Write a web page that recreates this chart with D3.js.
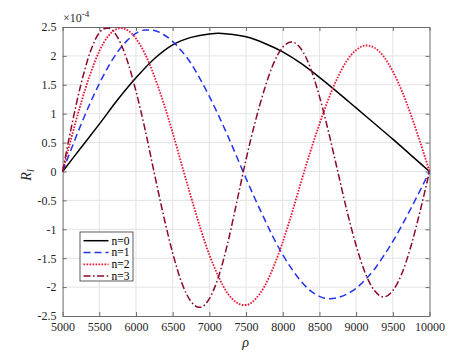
<!DOCTYPE html>
<html><head><meta charset="utf-8">
<script src="https://cdn.jsdelivr.net/npm/d3@7"></script>
<style>body{margin:0;background:#fff}svg{display:block}</style>
</head><body><svg id="c" width="474" height="355"></svg>
<script>
const xTicks = [5000,5500,6000,6500,7000,7500,8000,8500,9000,9500,10000];
const yTicks = [-2.5,-2,-1.5,-1,-0.5,0,0.5,1,1.5,2,2.5];
const yTickLabels = ["-2.5","-2","-1.5","-1","-0.5","0","0.5","1","1.5","2","2.5"];
const seriesNames = ["n=0","n=1","n=2","n=3"];

// n=0
const rho0 = [5000,5250,5500,5750,6000,6250,6500,6750,7000,7125,7250,7500,7750,8000,8250,8500,8750,9000,9250,9500,9750,10000];
const val0 = [0,0.41,0.82,1.24,1.62,1.95,2.19,2.32,2.38,2.39,2.38,2.33,2.22,2.07,1.87,1.63,1.37,1.10,0.83,0.56,0.28,0];
// n=1
const rho1 = [5000,5125,5250,5375,5500,5625,5750,5875,6000,6125,6170,6250,6375,6500,6625,6750,6875,7000,7125,7250,7375,7500,7625,7750,7875,8000,8125,8250,8375,8500,8625,8650,8750,8875,9000,9125,9250,9375,9500,9625,9750,9875,10000];
const val1 = [0,0.41,0.81,1.18,1.52,1.82,2.07,2.26,2.39,2.45,2.45,2.44,2.37,2.25,2.08,1.87,1.60,1.30,0.97,0.62,0.25,-0.12,-0.48,-0.82,-1.15,-1.44,-1.69,-1.90,-2.06,-2.16,-2.20,-2.20,-2.18,-2.12,-2.02,-1.87,-1.69,-1.46,-1.21,-0.93,-0.63,-0.32,0];
// n=2
const rho2 = [5000,5125,5250,5375,5500,5625,5750,5790,5875,6000,6125,6250,6375,6500,6625,6750,6875,7000,7125,7250,7375,7470,7500,7625,7750,7875,8000,8125,8250,8375,8500,8625,8750,8875,9000,9125,9145,9250,9375,9500,9625,9750,9875,10000];
const val2 = [0,0.61,1.18,1.68,2.08,2.35,2.47,2.48,2.45,2.30,2.03,1.65,1.19,0.67,0.11,-0.44,-0.97,-1.44,-1.82,-2.11,-2.27,-2.31,-2.31,-2.21,-1.99,-1.65,-1.22,-0.72,-0.18,0.34,0.82,1.26,1.63,1.92,2.10,2.18,2.18,2.14,1.99,1.73,1.39,0.97,0.50,0];
// n=3
const rho3 = [5000,5125,5250,5375,5500,5600,5625,5750,5875,6000,6125,6250,6375,6500,6625,6750,6865,6875,7000,7125,7250,7375,7500,7625,7750,7875,8000,8121,8250,8375,8500,8625,8750,8875,9000,9125,9250,9375,9500,9625,9750,9875,10000];
const val3 = [0,0.80,1.51,2.06,2.40,2.48,2.48,2.32,1.94,1.39,0.72,-0.03,-0.76,-1.41,-1.93,-2.25,-2.35,-2.35,-2.20,-1.82,-1.24,-0.52,0.21,0.86,1.42,1.87,2.15,2.24,2.12,1.80,1.30,0.68,0,-0.68,-1.28,-1.76,-2.06,-2.17,-2.06,-1.76,-1.28,-0.67,0];

const rhos = [rho0,rho1,rho2,rho3];
const vals = [val0,val1,val2,val3];
const colors = ["#000000","#2233ee","#ee1133","#8a0a28"];
const dashes = [null,"7,4","1.6,1.4","7,2.5,1.6,2.5"];

const svg = d3.select("#c");
const L=62.6,R=429.5,T=27,B=316;
const x = d3.scaleLinear().domain([5000,10000]).range([L,R]);
const y = d3.scaleLinear().domain([-2.5,2.5]).range([B,T]);
const FONT = "Times New Roman";

const grid = svg.append("g");
grid.selectAll("line.gx").data(xTicks.slice(1,-1)).join("line")
  .attr("x1",d=>x(d)).attr("x2",d=>x(d)).attr("y1",T).attr("y2",B)
  .attr("stroke","#e3e3e3").attr("stroke-width",1);
grid.selectAll("line.gy").data(yTicks.slice(1,-1)).join("line")
  .attr("y1",d=>y(d)).attr("y2",d=>y(d)).attr("x1",L).attr("x2",R)
  .attr("stroke","#e3e3e3").attr("stroke-width",1);

function styleAxis(g){
  g.attr("font-family",FONT).attr("font-size",12);
  g.select(".domain").attr("stroke","#6a6a6a");
  g.selectAll(".tick line").attr("stroke","#6a6a6a");
  g.selectAll("text").attr("fill","#262626").style("font-family",`"${FONT}"`).style("font-size","12px");
}
svg.append("g").attr("transform",`translate(0,${B})`)
  .call(d3.axisBottom(x).tickValues(xTicks).tickFormat(d3.format("d")).tickSizeInner(-4).tickSizeOuter(0).tickPadding(6))
  .call(styleAxis);
svg.append("g").attr("transform",`translate(0,${T})`)
  .call(d3.axisTop(x).tickValues(xTicks).tickFormat("").tickSizeInner(-4).tickSizeOuter(0))
  .call(styleAxis);
svg.append("g").attr("transform",`translate(${L},0)`)
  .call(d3.axisLeft(y).tickValues(yTicks).tickFormat((d,i)=>yTickLabels[i]).tickSizeInner(-4).tickSizeOuter(0).tickPadding(6))
  .call(styleAxis);
svg.append("g").attr("transform",`translate(${R},0)`)
  .call(d3.axisRight(y).tickValues(yTicks).tickFormat("").tickSizeInner(-4).tickSizeOuter(0))
  .call(styleAxis);

const line = d3.line().x(d=>x(d[0])).y(d=>y(d[1])).curve(d3.curveMonotoneX);
svg.append("defs").append("clipPath").attr("id","pc").append("rect")
  .attr("x",L-2).attr("y",T-2).attr("width",R-L+4).attr("height",B-T+4);
const lg = svg.append("g").attr("clip-path","url(#pc)");
for(let i=0;i<4;i++){
  const data = rhos[i].map((r,k)=>[r,vals[i][k]]);
  lg.append("path").datum(data).attr("d",line)
    .attr("fill","none").attr("stroke",colors[i]).attr("stroke-width",i==2?1.8:1.5)
    .attr("stroke-dasharray",dashes[i]);
}

const ex = svg.append("text").attr("x",63).attr("y",22).attr("fill","#262626")
  .style("font-family",`"${FONT}"`).style("font-size","12px");
ex.append("tspan").text("\u00d710");
ex.append("tspan").attr("dy",-5).style("font-size","9px").text("-4");

svg.append("text").attr("x",245.5).attr("y",347).attr("text-anchor","middle")
  .style("font-family",`"${FONT}"`).style("font-size","14px").style("font-style","italic")
  .attr("fill","#262626").text("\u03c1");
const yl = svg.append("text").attr("transform","translate(31,175) rotate(-90)").attr("text-anchor","middle")
  .style("font-family",`"${FONT}"`).style("font-size","14px").style("font-style","italic").attr("fill","#262626");
yl.append("tspan").text("R");
yl.append("tspan").attr("dy",3).style("font-size","10px").text("l");

const leg = svg.append("g");
leg.append("rect").attr("x",80).attr("y",232).attr("width",53).attr("height",49)
  .attr("fill","#fff").attr("stroke","#333").attr("stroke-width",0.8);
const rowY = [240.7,252.5,264.3,276];
seriesNames.forEach((nm,i)=>{
  leg.append("line").attr("x1",83.5).attr("x2",108.5).attr("y1",rowY[i]).attr("y2",rowY[i])
    .attr("stroke",colors[i]).attr("stroke-width",i==2?1.8:1.5).attr("stroke-dasharray",dashes[i]);
  leg.append("text").attr("x",111.5).attr("y",rowY[i]+3.8)
    .style("font-family",`"${FONT}"`).style("font-size","11.5px").attr("fill","#000").text(nm);
});
</script></body></html>
